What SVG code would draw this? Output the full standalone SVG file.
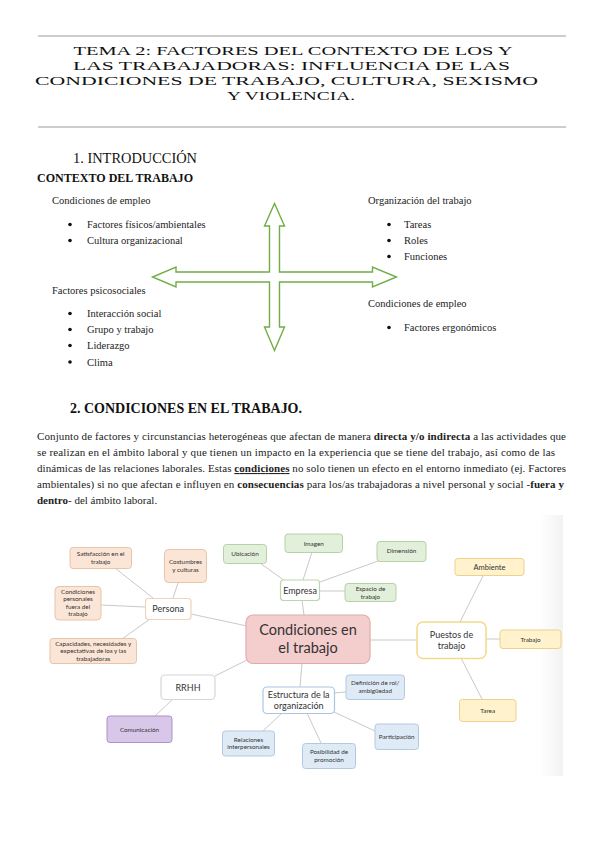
<svg xmlns="http://www.w3.org/2000/svg" width="599" height="848" viewBox="0 0 599 848">
<defs>
<linearGradient id="strip" x1="0" y1="0" x2="1" y2="0">
<stop offset="0" stop-color="#ffffff"/>
<stop offset="1" stop-color="#f2f2f2"/>
</linearGradient>
</defs>
<style>
.title{font-family:"Liberation Serif",serif;font-size:13px;fill:#111;text-anchor:middle}
.h{font-family:"Liberation Serif",serif;fill:#111}
.b{font-family:"Liberation Serif",serif;font-size:10.5px;fill:#222}
.p{font-family:"Liberation Serif",serif;font-size:11px;fill:#222}
.bold{font-weight:bold}
.rule{stroke:#bdbdbd;stroke-width:1.5}
.m{font-family:Lato,"Liberation Sans",sans-serif;fill:#333;text-anchor:middle}
.s{font-size:6.3px}
.md{font-size:9px}
.peach{fill:#fbe5d6;stroke:#e8c4a9;stroke-width:1}
.green{fill:#e2efda;stroke:#b7d0a6;stroke-width:1}
.yellow{fill:#fff2cc;stroke:#eed18a;stroke-width:1}
.blue{fill:#deebf7;stroke:#b3c9e0;stroke-width:1}
.purple{fill:#d9c7e9;stroke:#ab92c6;stroke-width:1}
.wp{fill:#fff;stroke:#f1d2bd;stroke-width:1.2}
.wg{fill:#fff;stroke:#bcd6ac;stroke-width:1.2}
.wy{fill:#fff;stroke:#f3d98a;stroke-width:1.5}
.wb{fill:#fff;stroke:#a9c6e3;stroke-width:1.2}
.wgray{fill:#fff;stroke:#d6d6d6;stroke-width:1.2}
.center{fill:#f4cdcd;stroke:#e2abab;stroke-width:1.2}
.conn line{stroke:#c9c9c9;stroke-width:1}
</style>

<rect width="599" height="848" fill="#fff"/>

<!-- Title -->
<g id="title">
<line class="rule" x1="38" y1="36" x2="566" y2="36"/>
<text class="title" x="293" y="55" textLength="439" lengthAdjust="spacingAndGlyphs">TEMA 2: FACTORES DEL CONTEXTO DE LOS Y</text>
<text class="title" x="291.5" y="70" textLength="437" lengthAdjust="spacingAndGlyphs">LAS TRABAJADORAS: INFLUENCIA DE LAS</text>
<text class="title" x="286.5" y="85" textLength="503" lengthAdjust="spacingAndGlyphs">CONDICIONES DE TRABAJO, CULTURA, SEXISMO</text>
<text class="title" x="291" y="99.5" textLength="128" lengthAdjust="spacingAndGlyphs">Y VIOLENCIA.</text>
<line class="rule" x1="38" y1="127" x2="566" y2="127"/>
</g>

<!-- Section 1 -->
<g id="intro">
<text class="h" x="73" y="163" font-size="15.5" textLength="124" lengthAdjust="spacingAndGlyphs">1. INTRODUCCIÓN</text>
<text class="h bold" x="37" y="182" font-size="12.5" textLength="156" lengthAdjust="spacingAndGlyphs">CONTEXTO DEL TRABAJO</text>
</g>

<g id="left-list">
<text class="b" x="52" y="204">Condiciones de empleo</text>
<circle cx="70" cy="224.5" r="1.8" fill="#111"/>
<text class="b" x="87" y="228">Factores físicos/ambientales</text>
<circle cx="70" cy="240.5" r="1.8" fill="#111"/>
<text class="b" x="87" y="244">Cultura organizacional</text>
<text class="b" x="52" y="294">Factores psicosociales</text>
<circle cx="70" cy="313.5" r="1.8" fill="#111"/>
<text class="b" x="87" y="317">Interacción social</text>
<circle cx="70" cy="329.5" r="1.8" fill="#111"/>
<text class="b" x="87" y="333">Grupo y trabajo</text>
<circle cx="70" cy="345.5" r="1.8" fill="#111"/>
<text class="b" x="87" y="349">Liderazgo</text>
<circle cx="70" cy="362" r="1.8" fill="#111"/>
<text class="b" x="87" y="365.5">Clima</text>
</g>

<g id="right-list">
<text class="b" x="368" y="204">Organización del trabajo</text>
<circle cx="389" cy="224.5" r="1.8" fill="#111"/>
<text class="b" x="404" y="228">Tareas</text>
<circle cx="389" cy="240.5" r="1.8" fill="#111"/>
<text class="b" x="404" y="244">Roles</text>
<circle cx="389" cy="256.5" r="1.8" fill="#111"/>
<text class="b" x="404" y="260">Funciones</text>
<text class="b" x="368" y="307">Condiciones de empleo</text>
<circle cx="389" cy="327.5" r="1.8" fill="#111"/>
<text class="b" x="404" y="331">Factores ergonómicos</text>
</g>

<g id="cross-arrow">
<polygon fill="#fff" stroke="#70ad47" stroke-width="1.4" stroke-linejoin="miter" points="274.5,203.5 284.5,226 279.5,226 279.5,272 372.5,272 372.5,267 396.5,277 372.5,287 372.5,282 279.5,282 279.5,327 284.5,327 274.5,350.5 264.5,327 269.5,327 269.5,282 176,282 176,287 152.5,277 176,267 176,272 269.5,272 269.5,226 264.5,226"/>
</g>

<!-- Section 2 -->
<g id="section2">
<text class="h bold" x="70" y="413" font-size="14.5" textLength="232" lengthAdjust="spacingAndGlyphs">2. CONDICIONES EN EL TRABAJO.</text>
<text class="p" x="37" y="440" textLength="529" lengthAdjust="spacing">Conjunto de factores y circunstancias heterogéneas que afectan de manera <tspan class="bold">directa y/o indirecta</tspan> a las actividades que</text>
<text class="p" x="37" y="456" textLength="518" lengthAdjust="spacing">se realizan en el ámbito laboral y que tienen un impacto en la experiencia que se tiene del trabajo, así como de las</text>
<text class="p" x="37" y="472" textLength="529" lengthAdjust="spacing">dinámicas de las relaciones laborales. Estas <tspan class="bold" text-decoration="underline">condiciones</tspan> no solo tienen un efecto en el entorno inmediato (ej. Factores</text>
<text class="p" x="37" y="488" textLength="527" lengthAdjust="spacing">ambientales) si no que afectan e influyen en <tspan class="bold">consecuencias</tspan> para los/as trabajadoras a nivel personal y social -<tspan class="bold">fuera y</tspan></text>
<text class="p" x="37" y="504"><tspan class="bold">dentro</tspan>- del ámbito laboral.</text>
</g>

<!-- Mind map -->
<rect x="540" y="515" width="23" height="261" fill="url(#strip)"/>

<g id="connectors" class="conn">
<line x1="115" y1="568" x2="153" y2="598"/>
<line x1="178" y1="583" x2="173" y2="598"/>
<line x1="101" y1="605" x2="145" y2="607"/>
<line x1="122" y1="639" x2="150" y2="619"/>
<line x1="191" y1="614" x2="247" y2="626"/>
<line x1="260" y1="563" x2="285" y2="581"/>
<line x1="312" y1="552" x2="303" y2="580"/>
<line x1="378" y1="561" x2="320" y2="582"/>
<line x1="319" y1="591" x2="345" y2="591"/>
<line x1="302" y1="600" x2="304" y2="615"/>
<line x1="370" y1="640" x2="417" y2="640"/>
<line x1="483" y1="576" x2="460" y2="622"/>
<line x1="486" y1="639" x2="500" y2="639"/>
<line x1="461" y1="658" x2="482" y2="699"/>
<line x1="247" y1="660" x2="215" y2="676"/>
<line x1="155" y1="716" x2="173" y2="699"/>
<line x1="302" y1="663" x2="300" y2="687"/>
<line x1="334" y1="693" x2="346" y2="692"/>
<line x1="282" y1="713" x2="263" y2="731"/>
<line x1="307" y1="713" x2="321" y2="743"/>
<line x1="334" y1="712" x2="375" y2="731"/>
</g>

<g id="n-satisfaccion">
<rect class="peach" x="70" y="547.5" width="61.5" height="21" rx="3"/>
<text class="m s" x="100.7" y="556">Satisfacción en el</text>
<text class="m s" x="100.7" y="564">trabajo</text>
</g>
<g id="n-costumbres">
<rect class="peach" x="164.5" y="549.5" width="42" height="33" rx="4"/>
<text class="m s" x="185.5" y="564">Costumbres</text>
<text class="m s" x="185.5" y="572">y culturas</text>
</g>
<g id="n-condpersonales">
<rect class="peach" x="55" y="586.5" width="46" height="33.5" rx="4"/>
<text class="m s" x="78" y="593.5">Condiciones</text>
<text class="m s" x="78" y="601">personales</text>
<text class="m s" x="78" y="608.5">fuera del</text>
<text class="m s" x="78" y="616">trabajo</text>
</g>
<g id="n-persona">
<rect class="wp" x="145.5" y="598.5" width="45.5" height="21" rx="3"/>
<text class="m md" x="168.2" y="612">Persona</text>
</g>
<g id="n-capacidades">
<rect class="peach" x="50" y="638.5" width="86.5" height="25" rx="3"/>
<text class="m s" x="93.2" y="645.5">Capacidades, necesidades y</text>
<text class="m s" x="93.2" y="653">expectativas de los y las</text>
<text class="m s" x="93.2" y="660.5">trabajadoras</text>
</g>

<g id="n-ubicacion">
<rect class="green" x="223.5" y="544.5" width="43" height="19" rx="3"/>
<text class="m s" x="245" y="556">Ubicación</text>
</g>
<g id="n-imagen">
<rect class="green" x="285" y="534" width="57.5" height="18.5" rx="3"/>
<text class="m s" x="313.7" y="545.5">Imagen</text>
</g>
<g id="n-dimension">
<rect class="green" x="377" y="541.5" width="49" height="20" rx="3"/>
<text class="m s" x="401.5" y="553">Dimensión</text>
</g>
<g id="n-empresa">
<rect class="wg" x="280.5" y="580" width="39" height="20.5" rx="3"/>
<text class="m md" x="300" y="593.5">Empresa</text>
</g>
<g id="n-espacio">
<rect class="green" x="345" y="583.5" width="51" height="18" rx="3"/>
<text class="m s" x="370.5" y="591">Espacio de</text>
<text class="m s" x="370.5" y="598.5">trabajo</text>
</g>

<g id="n-central">
<rect class="center" x="246" y="615" width="124" height="48.5" rx="7"/>
<text class="m" x="308" y="635" font-size="14.5">Condiciones en</text>
<text class="m" x="308" y="653" font-size="14.5">el trabajo</text>
</g>

<g id="n-puestos">
<rect class="wy" x="417" y="622" width="69" height="36.5" rx="6"/>
<text class="m md" x="451.5" y="638">Puestos de</text>
<text class="m md" x="451.5" y="649">trabajo</text>
</g>
<g id="n-ambiente">
<rect class="yellow" x="455" y="558.5" width="69" height="17" rx="3"/>
<text class="m" x="489.5" y="569.5" font-size="7.5">Ambiente</text>
</g>
<g id="n-trabajo">
<rect class="yellow" x="500" y="630" width="61" height="18.5" rx="3"/>
<text class="m s" x="530.5" y="641.5">Trabajo</text>
</g>
<g id="n-tarea">
<rect class="yellow" x="459.5" y="699.5" width="56.5" height="22" rx="3"/>
<text class="m s" x="487.7" y="712.5">Tarea</text>
</g>

<g id="n-rrhh">
<rect class="wgray" x="161" y="675" width="54" height="24.5" rx="4"/>
<text class="m md" x="188" y="690.5">RRHH</text>
</g>
<g id="n-comunicacion">
<rect class="purple" x="107" y="716" width="65" height="26.5" rx="3"/>
<text class="m s" x="139.5" y="731.5">Comunicación</text>
</g>
<g id="n-estructura">
<rect class="wb" x="263" y="687" width="71.5" height="26.5" rx="4"/>
<text class="m md" x="298.7" y="698">Estructura de la</text>
<text class="m md" x="298.7" y="709">organización</text>
</g>
<g id="n-definicion">
<rect class="blue" x="346" y="675" width="58.5" height="24.5" rx="3"/>
<text class="m s" x="375.2" y="685">Definición de rol/</text>
<text class="m s" x="375.2" y="692.5">ambigüedad</text>
</g>
<g id="n-relaciones">
<rect class="blue" x="222.5" y="731" width="52" height="25" rx="3"/>
<text class="m s" x="248.5" y="741.5">Relaciones</text>
<text class="m s" x="248.5" y="749">interpersonales</text>
</g>
<g id="n-posibilidad">
<rect class="blue" x="302.5" y="743.5" width="53" height="25" rx="3"/>
<text class="m s" x="329" y="754">Posibilidad de</text>
<text class="m s" x="329" y="761.5">promoción</text>
</g>
<g id="n-participacion">
<rect class="blue" x="375" y="724" width="43.5" height="25.5" rx="3"/>
<text class="m s" x="396.7" y="739">Participación</text>
</g>
</svg>
